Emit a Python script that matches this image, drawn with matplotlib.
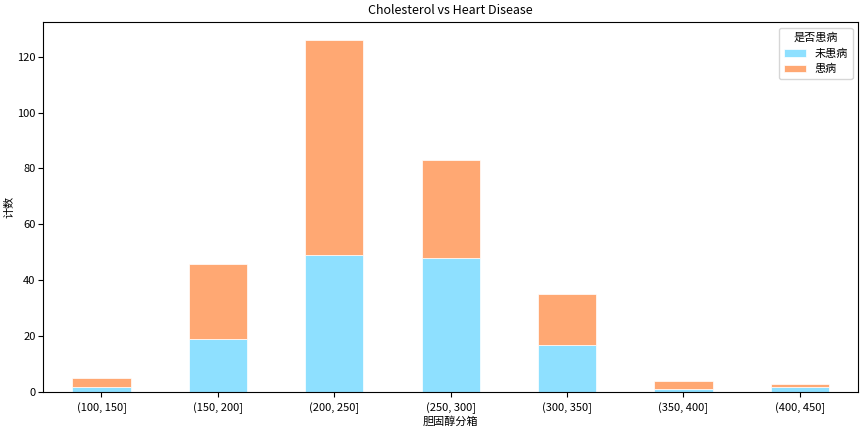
import numpy as np
import matplotlib
matplotlib.use("Agg")
import matplotlib.pyplot as plt

plt.rcParams['font.family'] = ['Noto Sans CJK SC', 'DejaVu Sans']
plt.rcParams['axes.unicode_minus'] = False

bins = ["(100, 150]", "(150, 200]", "(200, 250]", "(250, 300]",
        "(300, 350]", "(350, 400]", "(400, 450]"]
no_disease = [2, 19, 49, 48, 17, 1, 2]
disease = [3, 27, 77, 35, 18, 3, 1]

fig, ax = plt.subplots(figsize=(8.65, 4.29), dpi=100)
x = np.arange(len(bins))
ax.bar(x, no_disease, width=0.5, color="#8EE0FF", edgecolor="white", linewidth=0.5, label="未患病")
ax.bar(x, disease, width=0.5, bottom=no_disease, color="#FFA873", edgecolor="white", linewidth=0.5, label="患病")

ax.set_xticks(x)
ax.set_xticklabels(bins, rotation=0, fontsize=8)
ax.tick_params(axis='y', labelsize=8, pad=2)
ax.set_xlim(-0.5, len(bins) - 0.5)
ax.set_ylim(0, 132.3)
ax.set_title("Cholesterol vs Heart Disease", fontsize=9)
ax.set_xlabel("胆固醇分箱", fontsize=8, labelpad=2)
ax.set_ylabel("计数", fontsize=8, labelpad=2)
ax.legend(title="是否患病", fontsize=8, title_fontsize=8, loc="upper right")

plt.subplots_adjust(left=0.05, right=0.992, top=0.948, bottom=0.086)
plt.savefig("out.png")
